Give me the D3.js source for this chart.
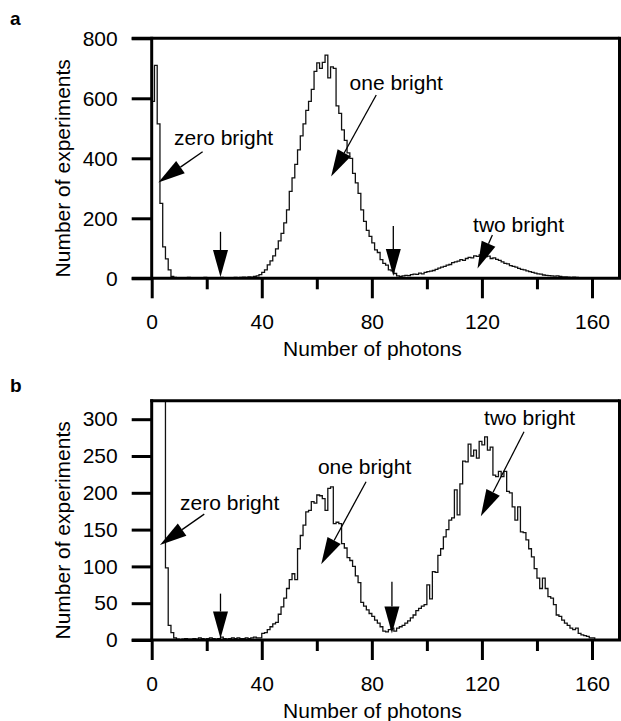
<!DOCTYPE html>
<html>
<head>
<meta charset="utf-8">
<script src="https://cdn.jsdelivr.net/npm/d3@7"></script>
<style>
  body { margin: 0; background: #fff; }
  text { font-family: "Liberation Sans", Arial, Helvetica, sans-serif; fill: #000; }
</style>
</head>
<body>
<svg id="chart" width="621" height="721"></svg>
<script>
// counts per 1-photon bin, starting at 0 photons
const countsA = [
  590, 710, 515, 250, 105, 65, 28, 6, 3,
  2, 1, 2, 1, 3, 2, 1, 2, 1, 2, 3, 2, 1, 2, 2, 1, 3, 2, 2, 1, 2, 3, 2, 3, 4, 3, 5, 4, 6,
  8, 12, 20, 28, 45, 58, 75, 98, 125, 150, 185, 228, 290, 335, 380, 428, 475, 515, 560, 590,
  630, 690, 718, 700, 720, 744, 668, 705, 700, 575, 550, 495, 460, 418, 400, 350, 318, 283,
  228, 190, 160, 140, 118, 95, 86, 62, 50, 44, 28, 25, 16, 8, 6, 8, 10, 9, 12, 14, 13, 17,
  15, 20, 22, 24, 26, 30, 34, 37, 40, 44, 46, 52, 55, 57, 62, 60, 66, 70, 68, 75, 73, 78,
  70, 72, 74, 66, 68, 63, 60, 55, 50, 48, 42, 40, 37, 33, 30, 28, 25, 22, 20, 17, 15, 14,
  11, 10, 9, 8, 7, 8, 6, 5, 5, 4, 3, 4, 3, 2, 2
];
// first bins run off the top of the panel
const countsB = [
  1100, 1400, 900, 600, 400, 98, 20, 10, 3,
  1, 0, 1, 2, 1, 1, 2, 1, 3, 2, 1, 2, 3, 2, 1, 2, 4, 2, 1, 2, 3, 2, 3, 2, 2, 3, 2, 3, 4, 3,
  3, 9, 10, 14, 18, 22, 24, 35, 45, 57, 70, 82, 90, 82, 124, 142, 156, 174, 176, 188, 186,
  197, 196, 192, 176, 206, 208, 158, 160, 158, 131, 125, 112, 108, 100, 87, 78, 51, 46, 41,
  36, 32, 27, 23, 18, 12, 11, 14, 16, 12, 16, 18, 20, 23, 26, 30, 34, 40, 43, 46, 48, 75,
  56, 93, 92, 115, 124, 140, 150, 163, 166, 204, 170, 212, 243, 242, 266, 250, 258, 247,
  270, 265, 276, 258, 262, 224, 222, 229, 222, 229, 202, 200, 181, 163, 181, 147, 146, 136,
  124, 113, 97, 84, 70, 84, 70, 59, 57, 48, 34, 32, 27, 23, 20, 16, 14, 16, 9, 7, 6, 5, 3, 3
];

const xMajor = [0, 40, 80, 120, 160];
const xMinor = [20, 60, 100, 140];
const yTicksA = [0, 200, 400, 600, 800];
const yTicksB = [0, 50, 100, 150, 200, 250, 300];

// labels: text at [photons, count], arrow from tail to tip
const notesA = [
  { text: "zero bright", at: [8.1, 444], tail: [18.5, 422], tip: [2.4, 319] },
  { text: "one bright", at: [71.9, 628], tail: [81.6, 611], tip: [65.2, 339] },
  { text: "two bright", at: [116.8, 155], tail: [123.8, 144], tip: [118.4, 33] },
  { text: "", at: null, tail: [25, 155], tip: [25, 4] },
  { text: "", at: null, tail: [87.8, 174], tip: [87.8, 8] }
];
const notesB = [
  { text: "zero bright", at: [10.3, 177], tail: [19.1, 171], tip: [3.0, 129] },
  { text: "one bright", at: [60.4, 226], tail: [77.9, 215], tip: [61.6, 103] },
  { text: "two bright", at: [120.8, 292], tail: [135.3, 283], tip: [119.6, 168] },
  { text: "", at: null, tail: [25, 63], tip: [25, 2] },
  { text: "", at: null, tail: [87.3, 79], tip: [87.3, 9] }
];

const svg = d3.select("#chart");
const left = 151.7, right = 619.5;
const x = d3.scaleLinear().domain([0, 170]).range([left, right]);

function drawPanel(cfg) {
  const y = d3.scaleLinear().domain([0, cfg.yMax]).range([cfg.bottom, cfg.top]);
  const g = svg.append("g");

  g.append("clipPath").attr("id", "clip" + cfg.name)
    .append("rect").attr("x", left).attr("y", cfg.top)
    .attr("width", right - left).attr("height", cfg.bottom - cfg.top);

  const pts = [[0, 0]].concat(cfg.counts.map((c, i) => [i, c]));
  pts.push([cfg.counts.length, cfg.counts[cfg.counts.length - 1]]);
  pts.push([cfg.counts.length, 0]);
  const line = d3.line().x(d => x(d[0])).y(d => y(d[1])).curve(d3.curveStepAfter);
  g.append("path").attr("d", line(pts))
    .attr("clip-path", "url(#clip" + cfg.name + ")")
    .attr("fill", "none").attr("stroke", "#111").attr("stroke-width", 1.3);

  // y axis
  const ya = g.append("g").attr("transform", "translate(" + left + ",0)")
    .call(d3.axisLeft(y).tickValues(cfg.yTicks).tickSize(20).tickPadding(14).tickSizeOuter(0));
  ya.select(".domain").remove();
  ya.selectAll("line").attr("stroke-width", 3);
  ya.selectAll("text").style("font-size", "21px");

  // x axis, long and short ticks
  const xa = g.append("g").attr("transform", "translate(0," + cfg.bottom + ")")
    .call(d3.axisBottom(x).tickValues(xMajor).tickSize(20).tickPadding(16).tickSizeOuter(0));
  xa.select(".domain").remove();
  xa.selectAll("line").attr("stroke-width", 3);
  xa.selectAll("text").style("font-size", "21px");
  const xm = g.append("g").attr("transform", "translate(0," + cfg.bottom + ")")
    .call(d3.axisBottom(x).tickValues(xMinor).tickSize(11).tickFormat("").tickSizeOuter(0));
  xm.select(".domain").remove();
  xm.selectAll("line").attr("stroke-width", 3);

  // frame
  const fr = [
    [left - (cfg.topExt ? 20 : 1.5), cfg.top, right, cfg.top],
    [left - 20, cfg.bottom, right + 1.5, cfg.bottom],
    [left, cfg.top - 1.5, left, cfg.bottom],
    [right, cfg.top - 1.5, right, cfg.bottom]
  ];
  g.selectAll(".frame").data(fr).enter().append("line")
    .attr("x1", d => d[0]).attr("y1", d => d[1]).attr("x2", d => d[2]).attr("y2", d => d[3])
    .attr("stroke", "#000").attr("stroke-width", 3);

  // titles
  g.append("text").attr("x", 0).attr("y", 0)
    .attr("transform", "translate(" + 70 + "," + ((cfg.top + cfg.bottom) / 2 + 10) + ") rotate(-90)")
    .attr("text-anchor", "middle").style("font-size", "21px")
    .text("Number of experiments");
  g.append("text").attr("x", (left + 593) / 2).attr("y", cfg.bottom + 78)
    .attr("text-anchor", "middle").style("font-size", "21px")
    .text("Number of photons");
  g.append("text").attr("x", 10).attr("y", cfg.labelY)
    .style("font-size", "19px").style("font-weight", "bold").text(cfg.name);

  // notes and arrows
  cfg.notes.forEach(n => {
    if (n.at) {
      g.append("text").attr("x", x(n.at[0])).attr("y", y(n.at[1]))
        .style("font-size", "21px").text(n.text);
    }
    const x1 = x(n.tail[0]), y1 = y(n.tail[1]), x2 = x(n.tip[0]), y2 = y(n.tip[1]);
    const ang = Math.atan2(y2 - y1, x2 - x1);
    const hl = 27, hw = 7.5;
    const bx = x2 - hl * Math.cos(ang), by = y2 - hl * Math.sin(ang);
    g.append("line").attr("x1", x1).attr("y1", y1).attr("x2", bx).attr("y2", by)
      .attr("stroke", "#000").attr("stroke-width", 1.3);
    const px = -Math.sin(ang) * hw, py = Math.cos(ang) * hw;
    g.append("path")
      .attr("d", "M" + x2 + "," + y2 + "L" + (bx + px) + "," + (by + py) + "L" + (bx - px) + "," + (by - py) + "Z")
      .attr("fill", "#000");
  });
}

drawPanel({ name: "a", counts: countsA, yMax: 800, yTicks: yTicksA, top: 38.3, bottom: 278.3, topExt: true, labelY: 25, notes: notesA });
drawPanel({ name: "b", counts: countsB, yMax: 325, yTicks: yTicksB, top: 400.8, bottom: 640, topExt: false, labelY: 392, notes: notesB });
</script>
</body>
</html>
